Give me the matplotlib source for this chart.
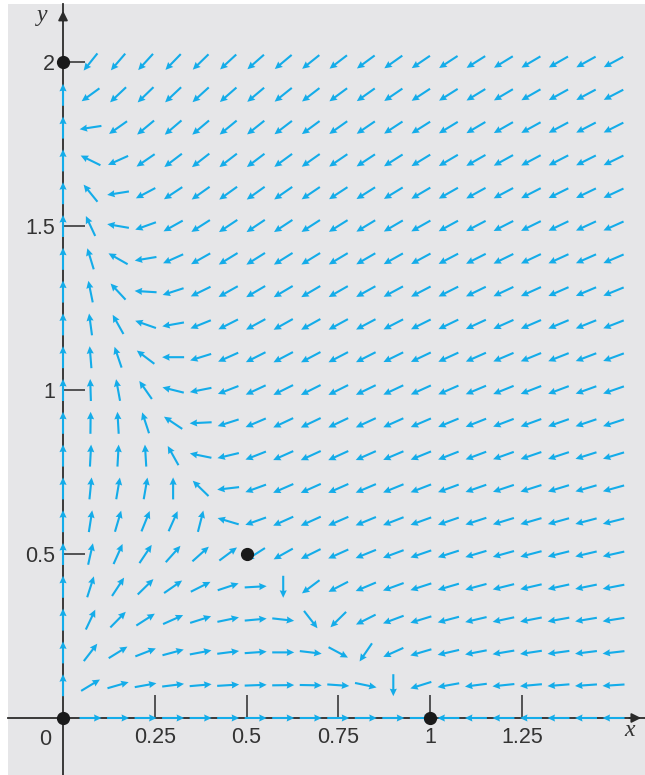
import numpy as np
import matplotlib.pyplot as plt

# competing species system:
#   dx/dt = x (a1 - b1 x - c1 y)
#   dy/dt = y (a2 - b2 y - c2 x)
coef_x = [1.0, 1.0, 1.0]
coef_y = [0.5, 0.25, 0.75]

# grid where the direction arrows sit
x_grid = np.linspace(0, 1.5, 21)
y_grid = np.linspace(0, 2, 21)

# critical points
crit_x = [0, 1, 0, 0.5]
crit_y = [0, 0, 2, 0.5]

xtick_vals = [0.25, 0.5, 0.75, 1, 1.25]
xtick_labels = ['0.25', '0.5', '0.75', '1', '1.25']
ytick_vals = [0.5, 1, 1.5, 2]
ytick_labels = ['0.5', '1', '1.5', '2']

arrow_color = '#14ace9'
ink = '#2b2b2b'

# --- figure ---
W, H = 645, 775
fig = plt.figure(figsize=(W / 100, H / 100), dpi=100, facecolor='white')
ax_left, ax_top = 8, 4
ax = fig.add_axes([ax_left / W, 0, (W - ax_left) / W, (H - ax_top) / H])
ax.set_facecolor('#e6e6e8')

xlim = (-0.1499, 1.5858)
ylim = (-0.1738, 2.1768)
ax.set_xlim(*xlim)
ax.set_ylim(*ylim)

# pixels per data unit (to keep arrows equal length on screen)
sx = (W - ax_left) / (xlim[1] - xlim[0])
sy = (H - ax_top) / (ylim[1] - ylim[0])

X, Y = np.meshgrid(x_grid, y_grid)
a1, b1, c1 = coef_x
a2, b2, c2 = coef_y
U = X * (a1 - b1 * X - c1 * Y)
V = Y * (a2 - b2 * Y - c2 * X)
Us, Vs = U * sx, V * sy
N = np.hypot(Us, Vs)
m = N > 1e-9
L = 22  # arrow length in pixels
ax.quiver(X[m], Y[m], L * Us[m] / N[m], L * Vs[m] / N[m],
          angles='uv', scale_units='dots', scale=1, units='dots',
          width=2.1, headwidth=3.4, headlength=3.6, headaxislength=3.3,
          pivot='mid', color=arrow_color, zorder=3)

# --- axes through the origin ---
for s in ['top', 'right']:
    ax.spines[s].set_visible(False)
for s in ['left', 'bottom']:
    ax.spines[s].set_position(('data', 0))
    ax.spines[s].set_color(ink)
    ax.spines[s].set_linewidth(1.3)
    ax.spines[s].set_zorder(1)

ax.annotate('', xy=(xlim[1] - 0.003, 0), xytext=(xlim[1] - 0.05, 0),
            arrowprops=dict(arrowstyle='-|>', color=ink, lw=1.3, mutation_scale=14),
            annotation_clip=False)
ax.annotate('', xy=(0, ylim[1] - 0.012), xytext=(0, ylim[1] - 0.06),
            arrowprops=dict(arrowstyle='-|>', color=ink, lw=1.3, mutation_scale=14),
            annotation_clip=False)

ax.set_xticks(xtick_vals, xtick_labels)
ax.set_yticks(ytick_vals, ytick_labels)
ax.tick_params(axis='x', direction='in', length=16.5, width=1.1, color=ink,
               pad=6.5, labelsize=15.5, labelcolor='#333333')
ax.tick_params(axis='y', direction='in', length=16, width=1.1, color=ink,
               pad=5.5, labelsize=15.5, labelcolor='#333333')
for lab in ax.get_xticklabels() + ax.get_yticklabels():
    lab.set_fontfamily('Liberation Sans')

ax.text(-0.049, -0.067, '0', ha='center', va='center', fontsize=15.5,
        color='#333333', family='Liberation Sans')
ax.text(1.545, -0.037, 'x', ha='center', va='center', fontsize=17,
        style='italic', color='#333333', family='Liberation Serif')
ax.text(-0.057, 2.143, 'y', ha='center', va='center', fontsize=17,
        style='italic', color='#333333', family='Liberation Serif')

ax.plot(crit_x, crit_y, 'o', color='#1a1a1a', ms=8.5, zorder=5, clip_on=False)

fig.savefig('out.png', dpi=100, facecolor='white')
